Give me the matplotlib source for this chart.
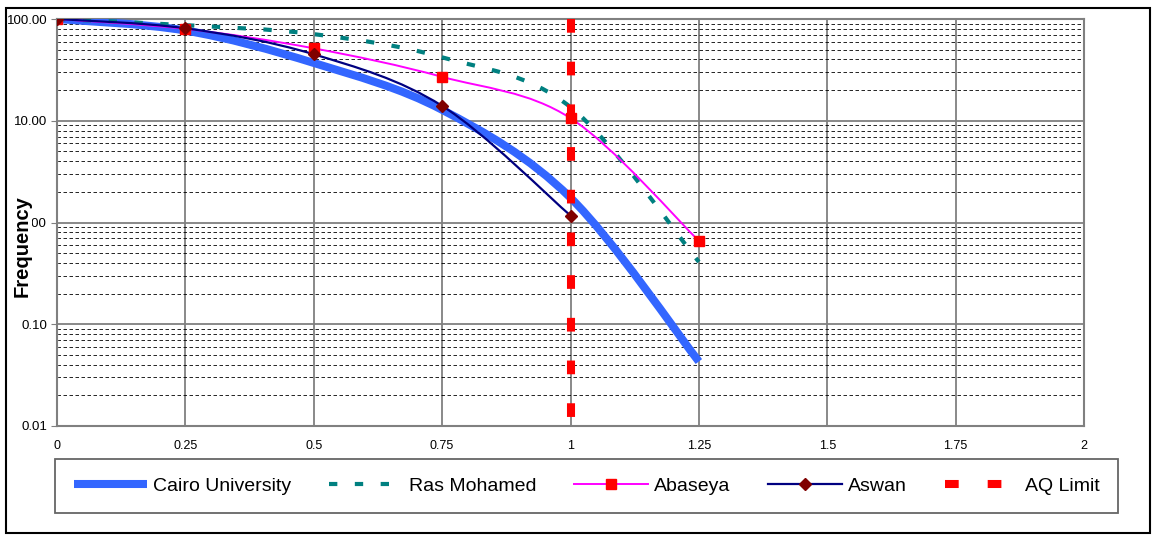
import matplotlib
matplotlib.use("Agg")
import numpy as np
import matplotlib.pyplot as plt
from matplotlib.path import Path
from matplotlib.patches import PathPatch, Rectangle
from matplotlib.lines import Line2D
from matplotlib.ticker import LogLocator, NullFormatter, FixedLocator, FixedFormatter

plt.rcParams['font.family'] = ['Liberation Sans', 'DejaVu Sans']

# data
distance = [0, 0.25, 0.5, 0.75, 1.0, 1.25]
cairo_university = [100, 77, 37, 12.8, 1.75, 0.043]
ras_mohamed = [100, 87, 71, 42, 13.6, 0.41]
abaseya = [100, 80, 51.5, 27, 10.6, 0.66]
aswan_x = [0, 0.25, 0.5, 0.75, 1.0]
aswan = [100, 81, 45, 14, 1.17]
aq_limit_x = [1, 1]
aq_limit_y = [100, 0.01]

x_ticks = [0, 0.25, 0.5, 0.75, 1, 1.25, 1.5, 1.75, 2]
x_tick_labels = ["0", "0.25", "0.5", "0.75", "1", "1.25", "1.5", "1.75", "2"]
y_ticks = [0.01, 0.1, 1, 10, 100]
y_tick_labels = ["0.01", "0.10", "1.00", "10.00", "100.00"]


def smooth_path(xs, ys):
    # Excel-like smoothed line: cubic bezier through the points, built in log space
    px = np.array(xs, dtype=float)
    py = np.log10(np.array(ys, dtype=float))
    n = len(px)
    verts = [(px[0], py[0])]
    codes = [Path.MOVETO]
    for i in range(n - 1):
        i0 = max(i - 1, 0)
        i3 = min(i + 2, n - 1)
        c1 = (px[i] + (px[i + 1] - px[i0]) / 6, py[i] + (py[i + 1] - py[i0]) / 6)
        c2 = (px[i + 1] - (px[i3] - px[i]) / 6, py[i + 1] - (py[i3] - py[i]) / 6)
        verts += [c1, c2, (px[i + 1], py[i + 1])]
        codes += [Path.CURVE4] * 3
    verts = np.array(verts)
    verts[:, 1] = 10 ** verts[:, 1]
    return Path(verts, codes)


fig = plt.figure(figsize=(11.52, 5.36), dpi=100)
ax = fig.add_axes([57 / 1152, 1 - 426 / 536, (1084 - 57) / 1152, (426 - 19) / 536])
ax.set_yscale('log')
ax.set_xlim(0, 2)
ax.set_ylim(0.01, 100)

blue = '#3366FF'
teal = '#008080'
magenta = '#FF00FF'
navy = '#000080'
darkred = '#800000'
red = '#FF0000'

ras_ls = (0, (2.0, 4.2))
aq_ls = (0, (1.7, 3.6))

ax.add_patch(PathPatch(smooth_path(distance, cairo_university), fill=False, edgecolor=blue,
                       lw=5.8, capstyle='butt', joinstyle='round', zorder=3))
ax.add_patch(PathPatch(smooth_path(distance, ras_mohamed), fill=False, edgecolor=teal,
                       lw=3.0, linestyle=ras_ls, capstyle='butt', zorder=4))
ax.add_patch(PathPatch(smooth_path(distance, abaseya), fill=False, edgecolor=magenta,
                       lw=1.4, zorder=5))
ax.add_patch(PathPatch(smooth_path(aswan_x, aswan), fill=False, edgecolor=navy,
                       lw=1.6, zorder=6))
ax.plot(aq_limit_x, aq_limit_y, color=red, lw=5.8, linestyle=aq_ls, dash_capstyle='butt', zorder=7)

ax.plot(distance, abaseya, linestyle='none', marker='s', ms=7, color=red, mec=red, zorder=8)
ax.plot(aswan_x, aswan, linestyle='none', marker='D', ms=6.5, color=darkred, mec=darkred, zorder=9)

# grid
ax.xaxis.set_major_locator(FixedLocator(x_ticks))
ax.xaxis.set_major_formatter(FixedFormatter(x_tick_labels))
ax.yaxis.set_major_locator(FixedLocator(y_ticks))
ax.yaxis.set_major_formatter(FixedFormatter(y_tick_labels))
ax.yaxis.set_minor_locator(LogLocator(base=10, subs=np.arange(2, 10), numticks=20))
ax.yaxis.set_minor_formatter(NullFormatter())
ax.grid(True, which='major', axis='both', color='#808080', lw=1.3, ls='-', zorder=1)
ax.grid(True, which='minor', axis='y', color='black', lw=0.6, ls=(0, (4.2, 3)), zorder=1)
ax.set_axisbelow(True)

for s in ax.spines.values():
    s.set_color('#808080')
    s.set_linewidth(1.5)

ax.tick_params(axis='y', which='major', length=4, direction='out', color='#808080',
               labelsize=9.5, pad=3)
ax.tick_params(axis='y', which='minor', length=2, direction='inout', color='#808080')
ax.tick_params(axis='x', which='major', length=0, labelsize=9, pad=10)

fig.text(22 / 1152, 1 - 246 / 536, 'Frequency', rotation=90, fontsize=14.5, fontweight='bold',
         ha='center', va='center', zorder=10,
         bbox=dict(facecolor='white', edgecolor='none', pad=0.5))

handles = [
    Line2D([], [], color=blue, lw=5.8, solid_capstyle='butt'),
    Line2D([], [], color=teal, lw=3.0, linestyle=ras_ls, dash_capstyle='butt'),
    Line2D([], [], color=magenta, lw=1.4, marker='s', ms=7, mfc=red, mec=red),
    Line2D([], [], color=navy, lw=1.6, marker='D', ms=6.5, mfc=darkred, mec=darkred),
    Line2D([], [], color=red, lw=5.8, linestyle=aq_ls, dash_capstyle='butt'),
]
labels = ["Cairo University", "Ras Mohamed", "Abaseya", "Aswan", "AQ Limit"]
leg = fig.legend(handles, labels, loc='center', bbox_to_anchor=(586.5 / 1152, 1 - 486 / 536),
                 ncol=5, fontsize=14, frameon=True, fancybox=False, borderpad=0.95,
                 handlelength=3.8, handletextpad=0.3, columnspacing=1.95, numpoints=1)
leg.get_frame().set_edgecolor('#404040')
leg.get_frame().set_linewidth(1.3)

fig.patches.append(Rectangle((6 / 1152, 1 - 533 / 536), (1150 - 6) / 1152, (533 - 8) / 536,
                             transform=fig.transFigure, fill=False, edgecolor='black', lw=1.5))

fig.savefig('out.png', dpi=100)
